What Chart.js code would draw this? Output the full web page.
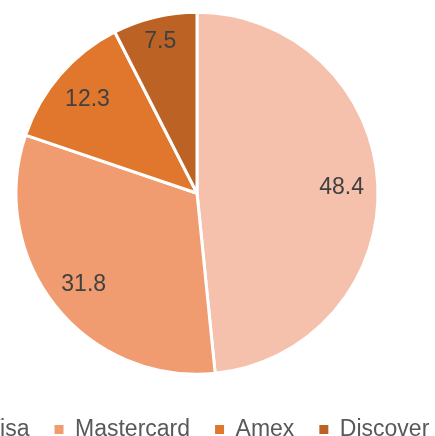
<!DOCTYPE html>
<html>
<head>
<meta charset="utf-8">
<script src="https://cdn.jsdelivr.net/npm/chart.js@4"></script>
<style>
  html, body { margin: 0; padding: 0; width: 435px; height: 436px; overflow: hidden; background: #fff; }
  #wrap { position: absolute; left: -83.5px; top: 0; width: 560px; height: 451px; }
</style>
</head>
<body>
<div id="wrap"><canvas id="c" width="560" height="451"></canvas></div>
<script>
const categories = ["Visa", "Mastercard", "Amex", "Discover"];
const shares = [48.4, 31.8, 12.3, 7.5];
const sliceColors = ["#F5C1AC", "#F09B70", "#E0772D", "#BB6224"];

const FONT = "'Liberation Sans', Arial, sans-serif";

const labelPlugin = {
  id: "sliceLabels",
  afterDatasetsDraw(chart) {
    const ctx = chart.ctx;
    const meta = chart.getDatasetMeta(0);
    const data = chart.data.datasets[0].data;
    const total = data.reduce((a, b) => a + b, 0);
    ctx.save();
    ctx.font = "23px " + FONT;
    ctx.fillStyle = "#404040";
    ctx.textAlign = "center";
    ctx.textBaseline = "middle";
    meta.data.forEach((arc, i) => {
      const p = arc.getProps(["x", "y", "startAngle", "endAngle", "outerRadius"], true);
      const mid = (p.startAngle + p.endAngle) / 2;
      const frac = data[i] / total < 0.1 ? 0.87 : 0.8;
      const r = p.outerRadius * frac;
      ctx.fillText(String(data[i]), p.x + Math.cos(mid) * r, p.y + Math.sin(mid) * r + 1.5);
    });
    ctx.restore();
  }
};

new Chart(document.getElementById("c"), {
  type: "pie",
  data: {
    labels: categories,
    datasets: [{
      data: shares,
      backgroundColor: sliceColors,
      borderColor: "#ffffff",
      borderWidth: 3,
      hoverBorderWidth: 3,
      hoverOffset: 0
    }]
  },
  options: {
    responsive: false,
    animation: false,
    events: [],
    radius: 181,
    layout: { padding: { top: 8.5, bottom: 0, left: 0, right: 0 } },
    plugins: {
      tooltip: { enabled: false },
      legend: {
        position: "bottom",
        title: { display: true, text: " ", font: { size: 15, lineHeight: 1 }, padding: 0 },
        labels: {
          boxWidth: 9,
          boxHeight: 9,
          padding: 25,
          color: "#595959",
          font: { family: FONT, size: 23 },
          generateLabels(chart) {
            const items = Chart.controllers.pie.overrides.plugins.legend.labels.generateLabels(chart);
            items.forEach(it => { it.lineWidth = 0; it.strokeStyle = it.fillStyle; });
            return items;
          }
        }
      }
    }
  },
  plugins: [labelPlugin]
});
</script>
</body>
</html>
